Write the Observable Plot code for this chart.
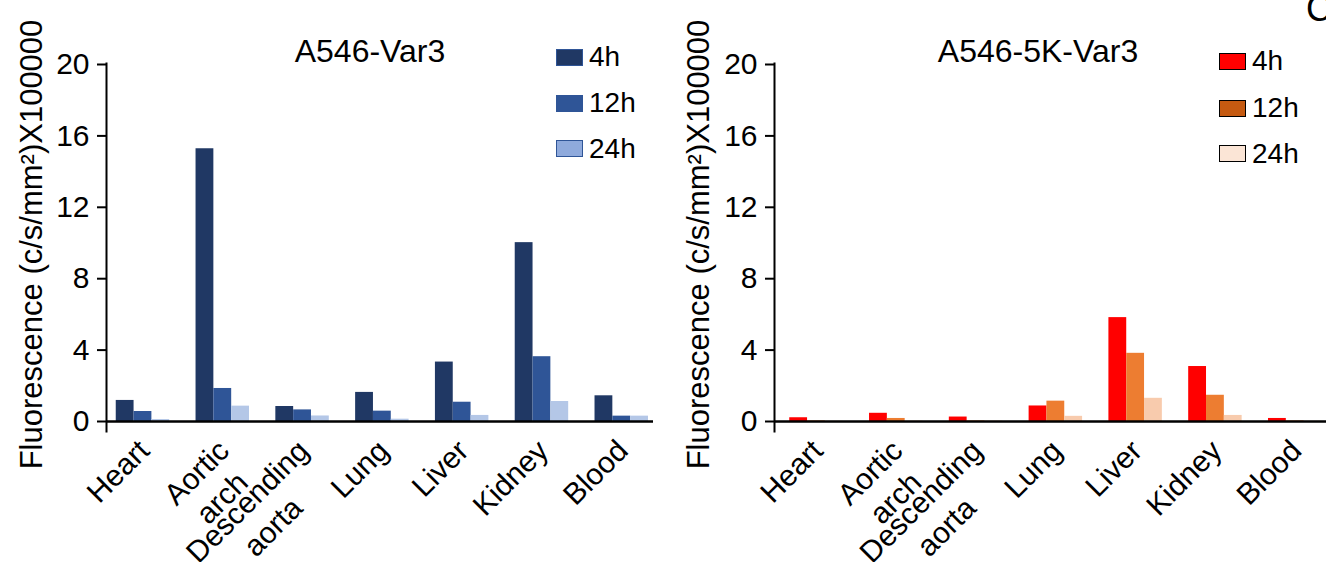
<!DOCTYPE html>
<html><head><meta charset="utf-8">
<script src="https://cdn.jsdelivr.net/npm/d3@7"></script>
<script src="https://cdn.jsdelivr.net/npm/@observablehq/plot@0.6"></script>
<style>
html,body{margin:0;padding:0;background:#fff;}
#wrap{position:relative;width:1326px;height:562px;overflow:hidden;display:flex;font-family:"Liberation Sans",Arial,sans-serif;color:#000;}
.panel{position:relative;width:663px;height:562px;}
.title{position:absolute;font-size:32px;line-height:1;white-space:nowrap;transform:translateX(-50%);}
.row{position:absolute;display:flex;align-items:center;font-size:28px;line-height:1;white-space:nowrap;}
.sw{box-sizing:border-box;width:27px;height:17px;margin-right:6px;border-style:solid;border-width:1.5px;}
.corner{position:absolute;left:1306px;top:-9px;font-size:36px;line-height:1;}
</style></head><body><div id="wrap"></div>
<script>
const organs = ["Heart", "Aortic\narch", "Descending\naorta", "Lung", "Liver", "Kidney", "Blood"];
const times = ["4h", "12h", "24h"];
const yTicks = [0, 4, 8, 12, 16, 20];
const yLabel = "Fluorescence (c/s/mm²)X100000";

const var3_4h  = [1.18, 15.28, 0.84, 1.63, 3.33, 10.02, 1.44];
const var3_12h = [0.56, 1.85, 0.65, 0.58, 1.08, 3.63, 0.30];
const var3_24h = [0.11, 0.86, 0.31, 0.13, 0.34, 1.12, 0.30];

const k5_4h  = [0.21, 0.46, 0.25, 0.87, 5.82, 3.08, 0.17];
const k5_12h = [0.03, 0.17, 0.03, 1.14, 3.82, 1.47, 0.03];
const k5_24h = [0.01, 0.02, 0.02, 0.29, 1.30, 0.34, 0.01];

const panels = [
  {title: "A546-Var3", values: [var3_4h, var3_12h, var3_24h],
   colors: ["#203864", "#2F5597", "#B4C7E7"],
   legendFill: ["#203864", "#2F5597", "#8FAADC"], legendStroke: ["#2F5597", "#2F5597", "#2F5597"],
   ml: 106, mr: 10, po: 0.0925, align: 0.66, titleX: 370, titleTop: 35, legendX: 556, legendRows: [57, 103, 148.5], labelDx: -87},
  {title: "A546-5K-Var3", values: [k5_4h, k5_12h, k5_24h],
   colors: ["#FF0000", "#ED7D31", "#F8CBAD"],
   legendFill: ["#FF0000", "#C55A11", "#FBE5D6"], legendStroke: ["#000", "#000", "#000"],
   ml: 111, mr: 0, po: 0.124, align: 0.77, titleX: 375, titleTop: 35, legendX: 556, legendRows: [61.3, 108, 153.7], labelDx: -88}
];

const FONT = '"Liberation Sans", Arial, sans-serif';
const canvas = document.createElement("canvas");
const ctx = canvas.getContext("2d");
function textWidth(s, size) {
  ctx.font = `${size}px "Liberation Sans"`;
  return Math.max(...s.split("\n").map(l => ctx.measureText(l).width));
}

const W = 663, H = 562, mt = 63, mb = 131;
const pi = 0.33;
const LABEL_SIZE = 30;
const wrap = document.getElementById("wrap");

panels.forEach(p => {
  const div = document.createElement("div");
  div.className = "panel";
  wrap.appendChild(div);

  const R = W - p.ml - p.mr;
  const step = R / (organs.length - pi + 2 * p.po);
  const bw = step * (1 - pi);
  const marks = [];
  p.values.forEach((arr, k) => {
    marks.push(Plot.barY(organs.map((o, i) => ({organ: o, value: arr[i], time: times[k]})), {
      x: "organ", y: "value", fill: p.colors[k],
      insetLeft: k * bw / 3, insetRight: (2 - k) * bw / 3
    }));
  });
  marks.push(Plot.ruleY([0], {stroke: "#000", strokeWidth: 2.5}));
  marks.push(Plot.frame({anchor: "left", stroke: "#000", strokeWidth: 2}));
  marks.push(Plot.axisY({ticks: yTicks, tickSize: 9, tickPadding: 8, fontSize: 30, stroke: "#000", strokeWidth: 2, label: null}));
  organs.forEach(o => {
    const L = textWidth(o, LABEL_SIZE);
    marks.push(Plot.text([o], {
      x: d => d, text: d => d, frameAnchor: "bottom", rotate: -45,
      textAnchor: "middle", lineAnchor: "top", fontSize: LABEL_SIZE, lineHeight: 1.2,
      dx: -10 - 0.3536 * L, dy: 3 + 0.3536 * L, fill: "#000"
    }));
  });
  marks.push(Plot.text([yLabel], {
    text: d => d, frameAnchor: "left", rotate: -90, textAnchor: "middle", lineAnchor: "top",
    dx: p.labelDx, dy: -3, fontSize: 31, fill: "#000"
  }));

  const chart = Plot.plot({
    width: W, height: H,
    marginLeft: p.ml, marginRight: p.mr, marginTop: mt, marginBottom: mb,
    x: {type: "band", domain: organs, paddingInner: pi, paddingOuter: p.po, align: p.align, round: false, axis: null},
    y: {domain: [0, 20], range: [421, 64], axis: null},
    style: {fontFamily: FONT, color: "#000", background: "transparent", overflow: "visible"},
    marks
  });
  div.appendChild(chart);

  const t = document.createElement("div");
  t.className = "title";
  t.textContent = p.title;
  t.style.left = p.titleX + "px";
  t.style.top = p.titleTop + "px";
  div.appendChild(t);

  times.forEach((tm, k) => {
    const row = document.createElement("div");
    row.className = "row";
    row.style.left = p.legendX + "px";
    row.style.top = (p.legendRows[k] - 14) + "px";
    const sw = document.createElement("div");
    sw.className = "sw";
    sw.style.background = p.legendFill[k];
    sw.style.borderColor = p.legendStroke[k];
    const lab = document.createElement("span");
    lab.textContent = tm;
    row.appendChild(sw);
    row.appendChild(lab);
    div.appendChild(row);
  });
});

const c = document.createElement("div");
c.className = "corner";
c.textContent = "C";
wrap.appendChild(c);
</script>
</body></html>
